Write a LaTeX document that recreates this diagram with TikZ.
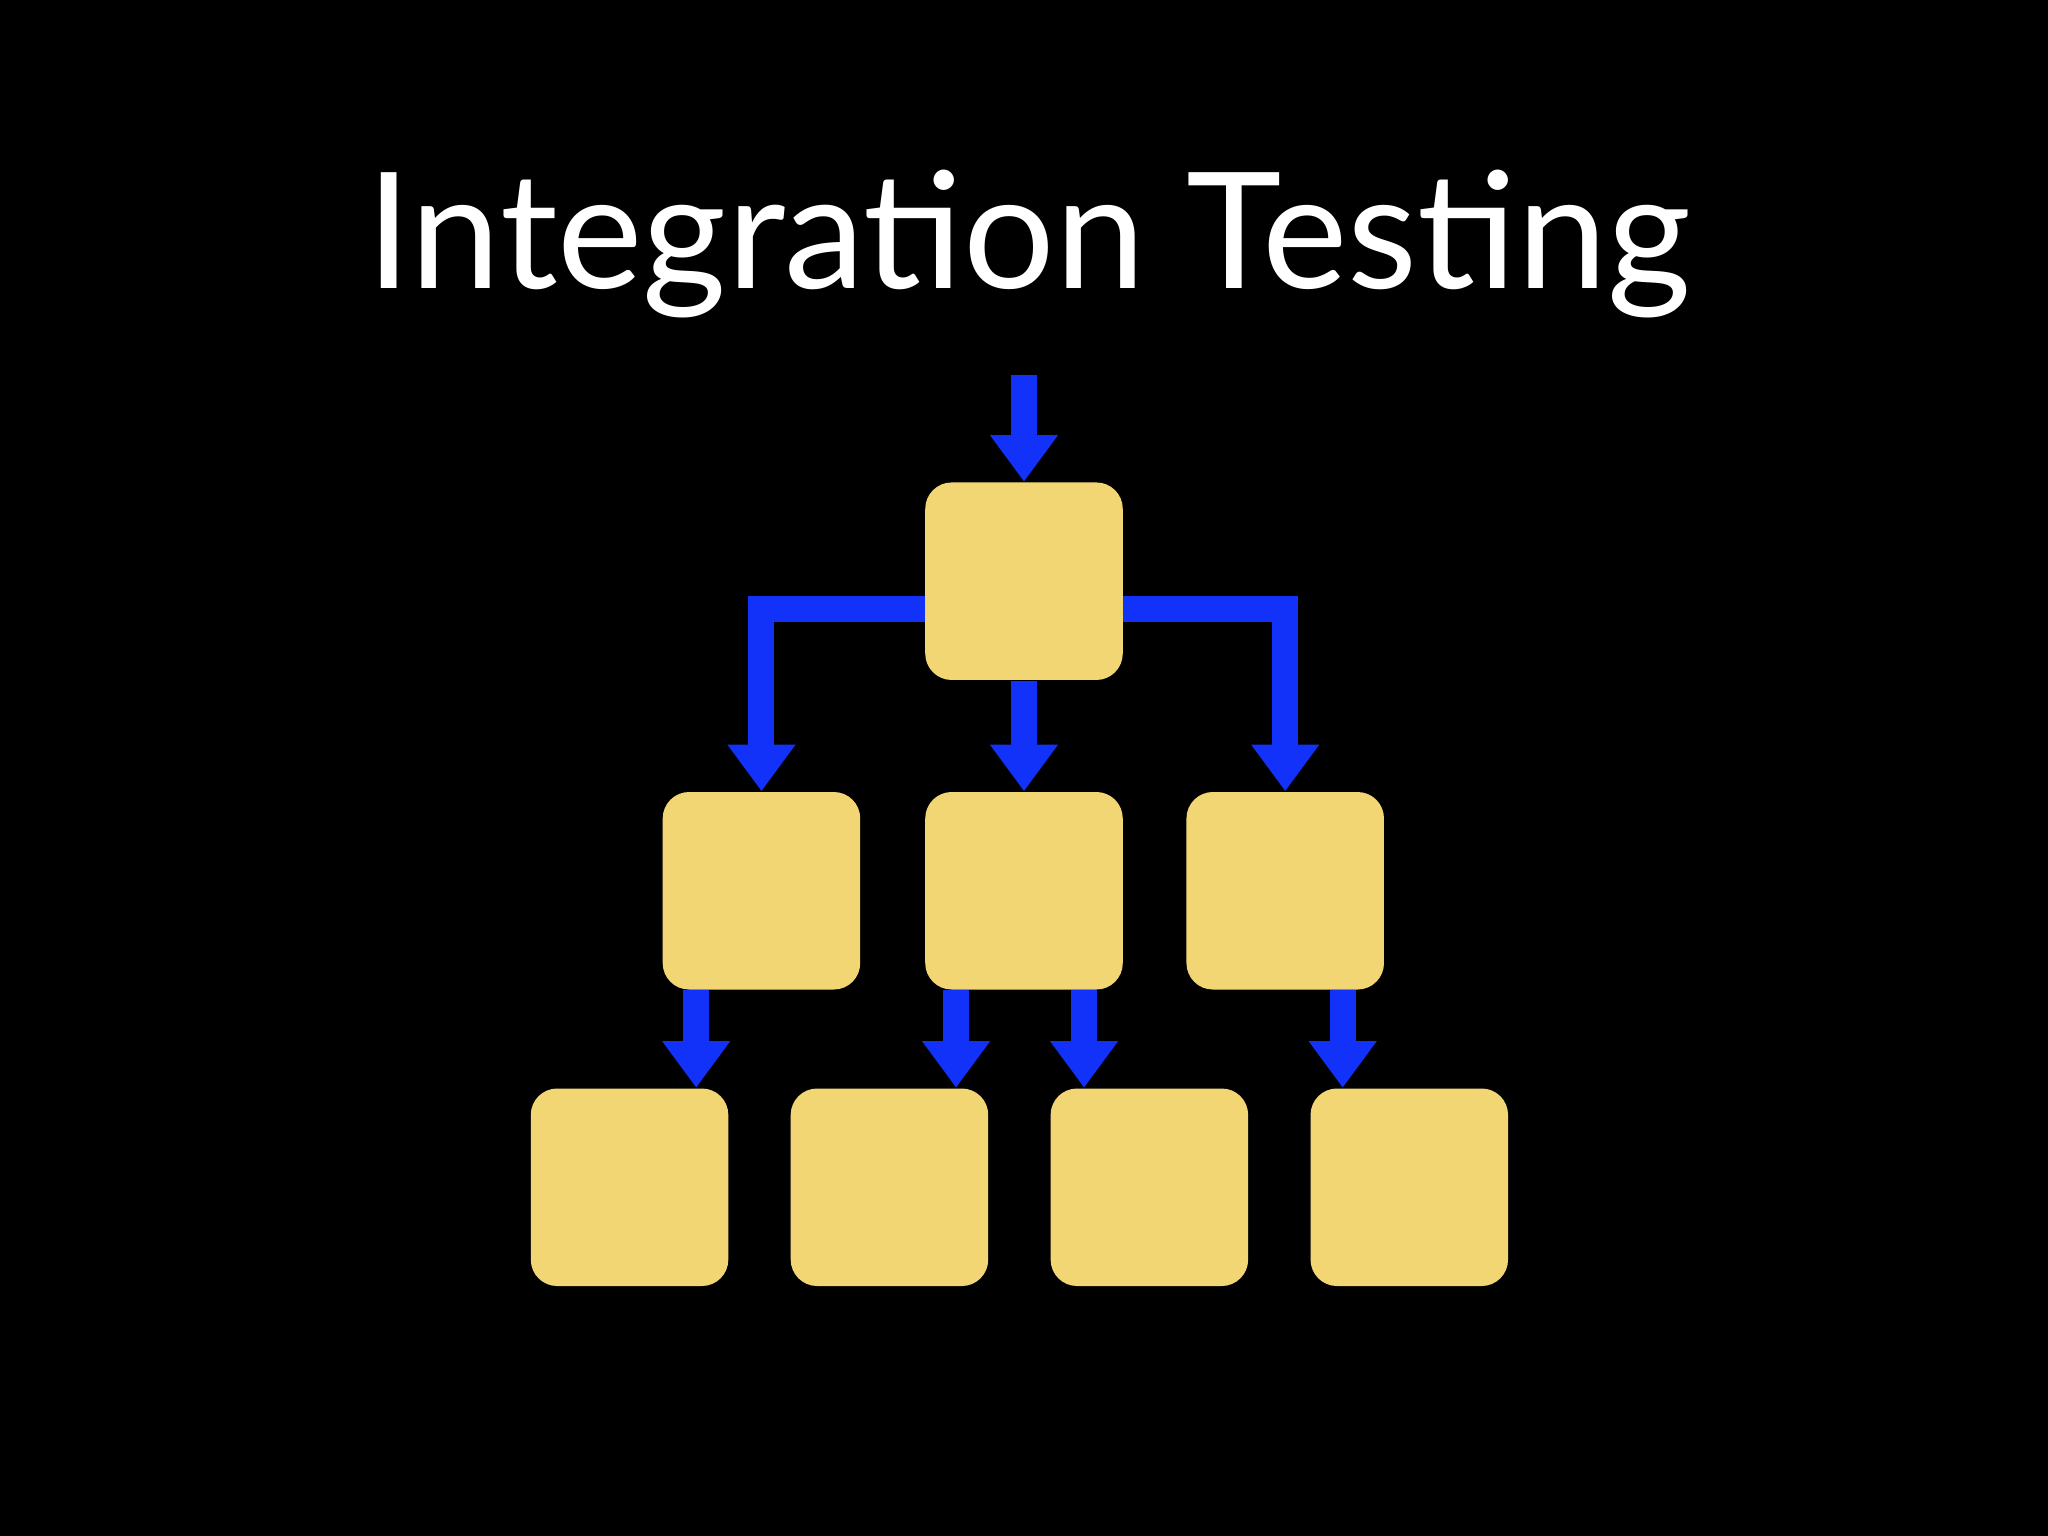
\documentclass[tikz,border=0pt]{standalone}
\usepackage{fontspec}
\setmainfont{Lato}
\usetikzlibrary{arrows.meta,calc}
\definecolor{arrblue}{HTML}{1232FA}
\definecolor{stick}{HTML}{F2D673}
\begin{document}
\begin{tikzpicture}[x=0.013061cm,y=-0.013061cm,
  box/.style={draw=none,fill=stick,rounded corners=7.5pt,minimum size=56.2pt,inner sep=0pt},
  arr/.style={draw=arrblue,line width=7.4pt,line join=miter,-{Triangle[width=18.5pt,length=13.3pt]}}]
\fill[black] (0,0) rectangle (1568,1176);
\node[white,font=\fontsize{46}{50}\selectfont,anchor=base] (title) at (788,221) {Integration Testing};
\node[box] (t) at (784,445) {};
\node[box] (m1) at (583,682) {};
\node[box] (m2) at (784,682) {};
\node[box] (m3) at (984,682) {};
\node[box] (b1) at (482,909) {};
\node[box] (b2) at (681,909) {};
\node[box] (b3) at (880,909) {};
\node[box] (b4) at (1079,909) {};
\coordinate (top) at (784,287);
\coordinate (xa) at (533,0);
\coordinate (xb) at (732,0);
\coordinate (xc) at (830,0);
\coordinate (xd) at (1028,0);
\draw[arr] (top) -- (t.north);
\draw[arr] ([yshift=-8pt]t.west) -| (m1.north);
\draw[arr] ([yshift=-8pt]t.east) -| (m3.north);
\draw[arr] (t.south) -- (m2.north);
\draw[arr] (xa|-m1.south) -- (xa|-b1.north);
\draw[arr] (xb|-m2.south) -- (xb|-b2.north);
\draw[arr] (xc|-m2.south) -- (xc|-b3.north);
\draw[arr] (xd|-m3.south) -- (xd|-b4.north);
\end{tikzpicture}
\end{document}
